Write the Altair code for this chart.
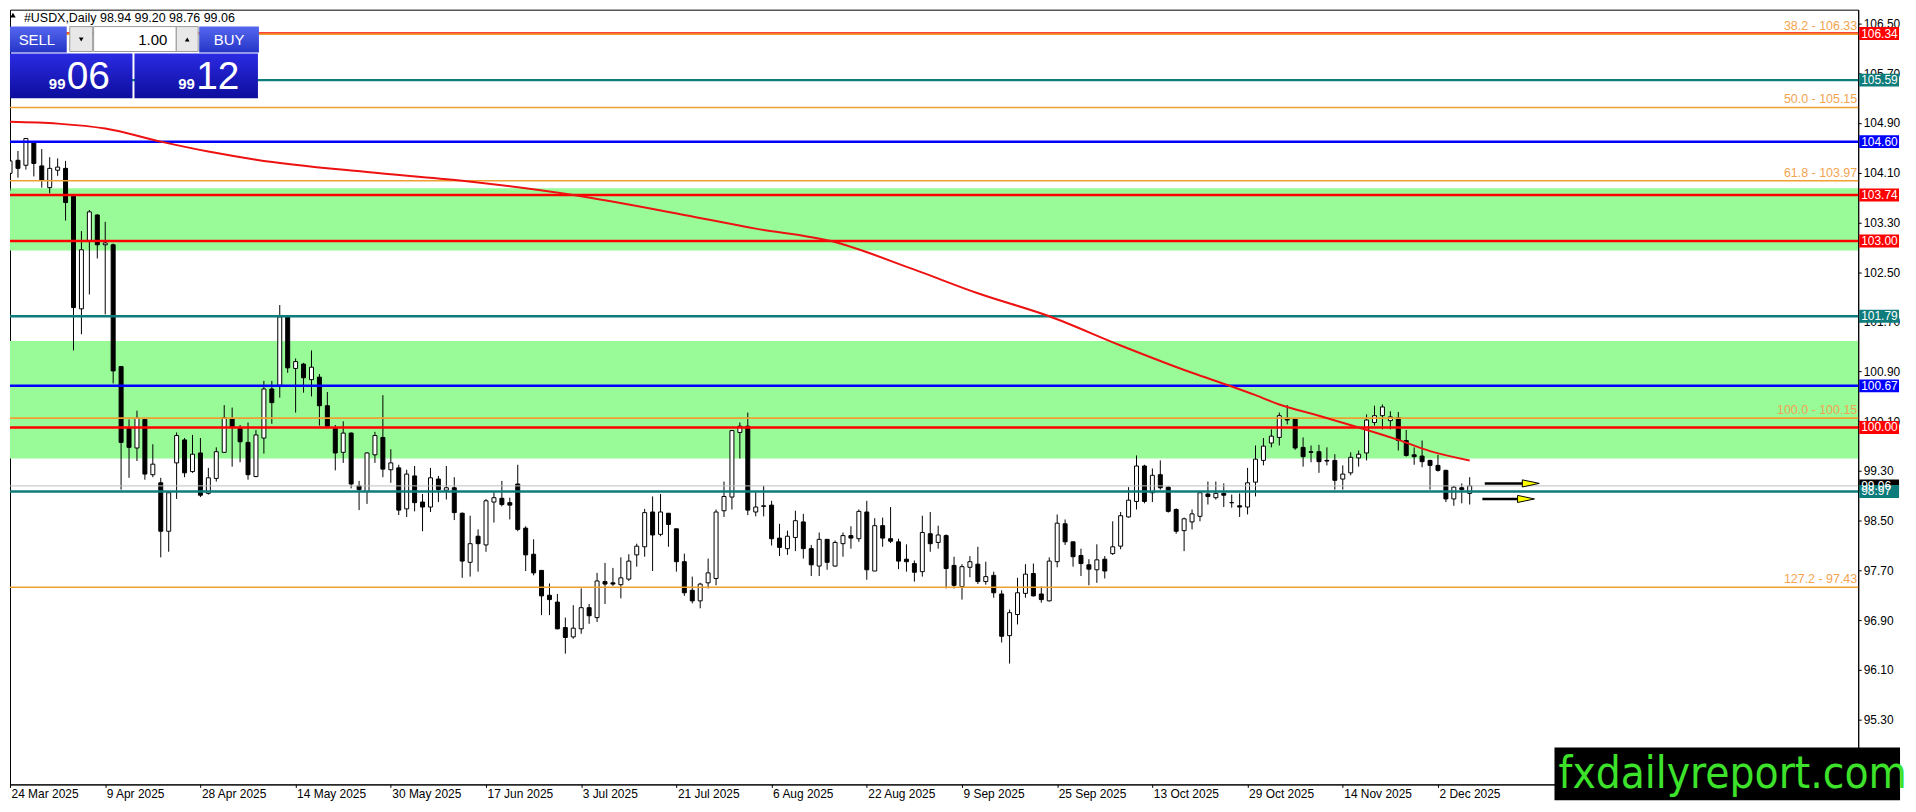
import altair as alt
import pandas as pd

# ---------------- data (#USDX, Daily) ----------------
opens = [
    104.09, 104.30, 104.22, 104.58, 104.21, 103.86, 104.14, 104.17, 103.72, 101.91,
    103.01, 103.42, 102.94, 102.94, 100.98, 99.99, 99.67, 100.13, 99.24, 99.11,
    98.33, 99.43, 99.80, 99.29, 99.59, 98.94, 99.18, 99.60, 100.14, 99.99,
    99.76, 99.21, 99.83, 100.62, 100.68, 101.78, 100.95, 101.02, 100.77, 100.81,
    100.35, 99.99, 99.60, 99.91, 99.06, 98.97, 99.56, 99.84, 99.32, 99.35,
    98.69, 99.22, 98.80, 98.72, 99.17, 98.99, 99.03, 98.62, 97.83, 98.25,
    98.11, 98.80, 98.86, 98.79, 99.09, 98.38, 97.96, 97.70, 97.30, 97.19,
    96.78, 96.63, 96.76, 97.10, 96.94, 97.52, 97.50, 97.47, 97.56, 97.95,
    98.08, 98.64, 98.28, 98.62, 98.37, 97.84, 97.38, 97.21, 97.50, 97.57,
    98.66, 98.88, 99.92, 100.02, 98.64, 98.73, 98.75, 98.22, 98.05, 98.23,
    98.48, 98.05, 97.77, 98.20, 97.77, 98.13, 98.26, 98.21, 98.64, 97.69,
    98.42, 98.21, 98.16, 97.88, 97.81, 97.68, 98.29, 98.15, 98.26, 97.78,
    97.44, 97.75, 97.80, 97.52, 97.62, 97.32, 96.65, 96.99, 97.33, 97.65,
    97.32, 97.21, 97.84, 98.45, 98.16, 97.94, 97.79, 97.71, 97.88, 97.97,
    98.09, 98.56, 98.81, 99.38, 98.95, 99.24, 99.04, 98.68, 98.34, 98.48,
    98.57, 98.93, 98.87, 98.94, 98.79, 98.74, 98.72, 99.12, 99.47, 99.75,
    99.84, 100.15, 100.14, 99.68, 99.61, 99.61, 99.47, 99.47, 99.17, 99.27,
    99.51, 99.59, 100.08, 100.19, 100.11, 100.16, 99.79, 99.56, 99.54, 99.47,
    99.39, 99.31, 98.85, 99.03, 98.94,
]
highs = [
    104.45, 104.45, 104.66, 104.59, 104.48, 104.35, 104.33, 104.29, 103.73, 103.16,
    103.50, 103.43, 103.31, 102.96, 100.99, 100.13, 100.27, 100.13, 99.73, 99.19,
    98.96, 99.92, 99.83, 99.88, 99.83, 99.35, 99.68, 100.36, 100.32, 100.04,
    100.08, 99.96, 100.75, 100.75, 101.97, 101.79, 101.11, 101.04, 101.24, 100.86,
    100.57, 100.04, 100.10, 99.92, 99.14, 99.60, 99.93, 100.52, 99.65, 99.40,
    99.32, 99.38, 98.93, 99.35, 99.22, 99.38, 99.20, 98.63, 98.58, 98.36,
    98.85, 98.97, 99.14, 98.87, 99.40, 98.41, 98.20, 97.70, 97.49, 97.32,
    96.94, 97.14, 97.41, 97.16, 97.66, 97.82, 97.74, 97.91, 97.96, 98.13,
    98.69, 98.89, 98.93, 98.62, 98.37, 97.97, 97.60, 97.50, 97.89, 98.68,
    99.13, 99.96, 100.08, 100.24, 98.96, 99.06, 98.82, 98.45, 98.34, 98.66,
    98.61, 98.11, 98.31, 98.20, 98.18, 98.31, 98.41, 98.68, 98.82, 98.54,
    98.55, 98.72, 98.21, 98.12, 97.86, 98.58, 98.64, 98.42, 98.28, 97.92,
    97.80, 97.93, 98.08, 97.84, 97.68, 97.38, 97.07, 97.58, 97.80, 97.81,
    97.44, 97.91, 98.60, 98.52, 98.16, 98.05, 97.88, 98.12, 97.93, 98.49,
    98.64, 99.04, 99.55, 99.40, 99.34, 99.47, 99.05, 98.70, 98.55, 98.68,
    98.96, 99.13, 99.13, 99.10, 98.92, 98.94, 99.35, 99.71, 99.83, 99.97,
    100.24, 100.36, 100.14, 99.84, 99.71, 99.72, 99.68, 99.57, 99.39, 99.60,
    99.63, 100.21, 100.35, 100.37, 100.26, 100.25, 99.96, 99.68, 99.79, 99.48,
    99.56, 99.32, 99.06, 99.10, 99.20,
]
lows = [
    103.81, 104.02, 104.15, 104.04, 103.86, 103.77, 104.05, 103.33, 101.24, 101.50,
    102.14, 102.72, 101.82, 100.71, 99.00, 99.19, 99.46, 99.16, 99.20, 97.91,
    98.00, 98.85, 99.20, 99.27, 98.88, 98.92, 99.13, 99.59, 99.37, 99.44,
    99.16, 99.20, 99.58, 100.06, 100.48, 100.88, 100.24, 100.56, 100.50, 100.03,
    100.01, 99.31, 99.43, 99.02, 98.67, 98.77, 99.43, 99.20, 99.11, 98.59,
    98.56, 98.65, 98.33, 98.64, 98.80, 98.84, 98.51, 97.58, 97.60, 97.68,
    98.00, 98.47, 98.73, 98.52, 98.33, 97.69, 97.62, 96.98, 96.98, 96.75,
    96.36, 96.60, 96.68, 96.84, 96.87, 97.16, 97.45, 97.25, 97.53, 97.76,
    97.92, 97.69, 98.25, 98.08, 97.68, 97.29, 97.17, 97.09, 97.41, 97.46,
    98.56, 98.68, 99.50, 98.59, 98.57, 98.57, 98.10, 97.93, 97.95, 98.01,
    97.89, 97.61, 97.61, 97.71, 97.76, 97.92, 98.05, 98.16, 97.55, 97.69,
    98.08, 98.14, 97.72, 97.68, 97.52, 97.60, 98.00, 98.05, 97.41, 97.41,
    97.23, 97.59, 97.48, 97.47, 97.26, 96.54, 96.20, 96.83, 97.26, 97.28,
    97.18, 97.20, 97.75, 98.11, 97.76, 97.61, 97.46, 97.50, 97.57, 97.95,
    98.04, 98.55, 98.68, 98.78, 98.80, 99.00, 98.63, 98.29, 98.01, 98.36,
    98.49, 98.76, 98.84, 98.72, 98.71, 98.56, 98.60, 98.89, 99.39, 99.68,
    99.71, 100.05, 99.64, 99.37, 99.44, 99.27, 99.39, 99.00, 99.00, 99.23,
    99.37, 99.47, 100.03, 99.97, 99.97, 99.63, 99.53, 99.40, 99.36, 99.00,
    99.29, 98.80, 98.74, 98.78, 98.76,
]
closes = [
    104.29, 104.17, 104.65, 104.25, 103.98, 104.17, 104.19, 103.62, 101.93, 102.86,
    103.47, 102.94, 102.97, 100.91, 99.76, 99.68, 100.15, 99.25, 99.41, 98.33,
    98.95, 99.87, 99.27, 99.57, 98.91, 99.19, 99.61, 100.16, 100.01, 99.77,
    99.24, 99.88, 100.62, 100.40, 101.78, 100.96, 101.06, 100.80, 100.97, 100.35,
    100.02, 99.59, 99.91, 99.09, 99.00, 99.59, 99.87, 99.33, 99.43, 98.67,
    99.25, 98.79, 98.72, 99.19, 99.00, 99.03, 98.63, 97.85, 98.13, 98.13,
    98.82, 98.87, 98.76, 98.75, 98.36, 97.95, 97.66, 97.29, 97.23, 96.76,
    96.62, 96.77, 97.10, 96.97, 97.53, 97.48, 97.48, 97.58, 97.85, 98.09,
    98.63, 98.27, 98.64, 98.44, 97.84, 97.34, 97.21, 97.48, 97.66, 98.64,
    98.89, 99.95, 100.02, 98.67, 98.72, 98.74, 98.21, 98.07, 98.25, 98.50,
    98.05, 97.79, 98.20, 97.83, 98.15, 98.26, 98.22, 98.65, 97.71, 98.42,
    98.22, 98.17, 97.85, 97.84, 97.67, 98.31, 98.13, 98.27, 97.73, 97.46,
    97.76, 97.84, 97.52, 97.60, 97.34, 96.64, 97.02, 97.34, 97.64, 97.29,
    97.23, 97.85, 98.46, 98.16, 97.92, 97.81, 97.72, 97.87, 97.69, 98.08,
    98.58, 98.83, 99.38, 98.81, 99.23, 99.03, 98.65, 98.33, 98.53, 98.61,
    98.95, 98.89, 98.94, 98.91, 98.79, 98.72, 99.11, 99.49, 99.70, 99.86,
    100.19, 100.12, 99.67, 99.53, 99.60, 99.45, 99.46, 99.15, 99.25, 99.52,
    99.57, 100.12, 100.19, 100.33, 100.17, 99.79, 99.55, 99.53, 99.45, 99.39,
    99.31, 98.85, 99.04, 99.00, 99.06,
]

date_labels = ["24 Mar 2025", "9 Apr 2025", "28 Apr 2025", "14 May 2025", "30 May 2025",
               "17 Jun 2025", "3 Jul 2025", "21 Jul 2025", "6 Aug 2025", "22 Aug 2025",
               "9 Sep 2025", "25 Sep 2025", "13 Oct 2025", "29 Oct 2025", "14 Nov 2025",
               "2 Dec 2025"]
price_ticks = [106.50, 105.70, 104.90, 104.10, 103.30, 102.50, 101.70, 100.90,
               100.10, 99.30, 98.50, 97.70, 96.90, 96.10, 95.30, 94.50]

# moving average (red curve) read at some bars
ma_bars = [1, 7, 13, 20, 26, 32, 46, 58, 72, 86, 95, 104.5, 115, 123, 132, 141,
           150, 155, 158, 161, 166, 171, 176, 180, 185]
ma_values = [104.92, 104.89, 104.81, 104.60, 104.44, 104.31, 104.11, 103.97, 103.74,
             103.42, 103.20, 103.00, 102.54, 102.16, 101.79, 101.32, 100.88, 100.66,
             100.52, 100.37, 100.19, 100.00, 99.80, 99.62, 99.47]

level_prices = [106.34, 105.59, 104.60, 103.74, 103.00, 101.79, 100.67, 100.00, 98.97]
level_colors = ["#FF0000", "#0E7C7B", "#0000FF", "#FF0000", "#FF0000", "#0E7C7B",
                "#0000FF", "#FF0000", "#0E7C7B"]
fib_ratios = ["38.2", "50.0", "61.8", "100.0", "127.2"]
fib_prices = [106.33, 105.15, 103.97, 100.15, 97.43]
zone_low = [102.85, 99.50]
zone_high = [103.85, 101.39]
bid_price = 99.06
ask_price = 99.12
title_text = "#USDX,Daily 98.94 99.20 98.76 99.06"
watermark = "fxdailyreport.com"

# ---------------- chart ----------------
W, H = 1856, 778
FONT = "Liberation Sans"
NARROW = "'Liberation Sans Narrow', 'DejaVu Sans Condensed', 'Arial Narrow', sans-serif"
FIB = "#F0A030"

n = list(range(1, len(opens) + 1))
candles = pd.DataFrame({"n": n, "o": opens, "h": highs, "l": lows, "c": closes})
candles["fill"] = ["white" if c >= o else "black" for o, c in zip(opens, closes)]

xs = alt.Scale(domain=[0.995, 233.975], nice=False, zero=False, padding=0)
ys = alt.Scale(domain=[94.256, 106.724], nice=False, zero=False, padding=0)

label_expr = "[" + ",".join("'%s'" % d for d in date_labels) + "][round((datum.value - 1) / 12)]"
x_axis = alt.Axis(values=[1 + 12 * i for i in range(len(date_labels))], labelExpr=label_expr,
                  title=None, grid=False, labelAlign="left", labelBaseline="top",
                  labelFlush=False, labelOverlap=False, labelPadding=1, tickSize=3,
                  labelFont=FONT, labelFontSize=12, labelColor="black", tickColor="black",
                  domainColor="black", labelOffset=1, zindex=0)
y_axis = alt.Axis(values=price_ticks, format=".2f", orient="right", title=None, grid=False,
                  labelFlush=False, labelOverlap=False, tickSize=3, labelPadding=2,
                  labelFont=FONT, labelFontSize=12, labelColor="black", tickColor="black",
                  domainColor="black", zindex=0)


def X(f):
    return alt.X(f, type="quantitative", scale=xs, axis=x_axis)


def Y(f):
    return alt.Y(f, type="quantitative", scale=ys, axis=y_axis)


one = pd.DataFrame({"a": [0]})

zones = alt.Chart(pd.DataFrame({"lo": zone_low, "hi": zone_high})).mark_rect(
    color="#98FB98", clip=True).encode(y=Y("lo"), y2="hi:Q")

wicks = alt.Chart(candles).mark_rule(color="black", strokeWidth=1, clip=True).encode(
    x=X("n"), y=Y("l"), y2="h:Q")
bodies = alt.Chart(candles).mark_bar(size=4, stroke="black", strokeWidth=1, clip=True).encode(
    x=X("n"), y=Y("o"), y2="c:Q", fill=alt.Fill("fill:N", scale=None))

bid_line = alt.Chart(pd.DataFrame({"p": [bid_price]})).mark_rule(
    color="#C0C0C0", strokeWidth=1).encode(y=Y("p"))

levels = pd.DataFrame({"p": level_prices, "col": level_colors})
level_lines = alt.Chart(levels).mark_rule(strokeWidth=2.5).encode(
    y=Y("p"), color=alt.Color("col:N", scale=None))

fibs = pd.DataFrame({"p": fib_prices,
                     "txt": ["%s - %.2f" % (r, p) for r, p in zip(fib_ratios, fib_prices)]})
fib_lines = alt.Chart(fibs).mark_rule(color=FIB, strokeWidth=1.6).encode(y=Y("p"))
fib_text = alt.Chart(fibs).mark_text(align="right", baseline="bottom", dy=-1, fontSize=12.5,
                                     font=FONT, color="#F2A450").encode(
    x=alt.value(W - 1), y=Y("p"), text="txt:N")

ma = alt.Chart(pd.DataFrame({"n": ma_bars, "v": ma_values})).mark_line(
    color="#EE1111", strokeWidth=2, clip=True, interpolate="monotone").encode(x=X("n"), y=Y("v"))

last = len(opens)
arrows = pd.DataFrame({"x1": [last + 1.9, last + 1.6], "x2": [last + 6.7, last + 6.0],
                       "xh": [last + 7.7, last + 7.1], "p": [99.10, 98.85]})
arrow_shafts = alt.Chart(arrows).mark_rule(color="black", strokeWidth=2.5).encode(
    x=X("x1"), x2="x2:Q", y=Y("p"))
arrow_heads = alt.Chart(arrows).mark_point(
    shape="M-1,-0.42L1,0L-1,0.42Z", size=289, filled=True, fill="#FFFF00", stroke="black",
    strokeWidth=1, opacity=1).encode(x=X("xh"), y=Y("p"))

box_rows = pd.DataFrame({
    "p": level_prices[:8] + [bid_price, level_prices[8]],
    "col": level_colors[:8] + ["#000000", level_colors[8]],
})
box_rows["txt"] = ["%.2f" % v for v in box_rows["p"]]
label_boxes = alt.Chart(box_rows).mark_point(
    shape="M-1,-0.325L1,-0.325L1,0.325L-1,0.325Z", size=1600, filled=True, opacity=1,
    strokeWidth=0).encode(x=alt.value(W + 21), y=Y("p"), fill=alt.Fill("col:N", scale=None))
label_texts = alt.Chart(box_rows).mark_text(align="left", baseline="middle", fontSize=12,
                                            font=FONT, color="white").encode(
    x=alt.value(W + 3), y=Y("p"), text="txt:N")


def box(x1, y1, x2, y2, **kw):
    return alt.Chart(one).mark_rect(**kw).encode(
        x=alt.value(x1), x2=alt.value(x2), y=alt.value(y1), y2=alt.value(y2))


def label(x, y, text, **kw):
    kw.setdefault("font", FONT)
    return alt.Chart(one).mark_text(**kw).encode(
        x=alt.value(x), y=alt.value(y), text=alt.value(text))


def sym(x, y, shape, size):
    return alt.Chart(one).mark_point(shape=shape, size=size, filled=True, color="black",
                                     opacity=1).encode(x=alt.value(x), y=alt.value(y))


btn_grad = alt.Gradient(gradient="linear", x1=0, x2=0, y1=0, y2=1,
                        stops=[alt.GradientStop(color="#5566EE", offset=0),
                               alt.GradientStop(color="#2536C8", offset=1)])
big_grad = alt.Gradient(gradient="linear", x1=0, x2=0, y1=0, y2=1,
                        stops=[alt.GradientStop(color="#2B2BE4", offset=0),
                               alt.GradientStop(color="#0D0D9C", offset=1)])

bid_txt = "%.2f" % bid_price
ask_txt = "%.2f" % ask_price
panel = [
    sym(3, 5.5, "triangle-up", 30),
    label(14, 12, title_text, align="left", baseline="alphabetic", fontSize=12.5, color="black"),
    box(0, 17, 57, 43, fill=btn_grad),
    label(27, 30.5, "SELL", align="center", baseline="middle", fontSize=15, color="white"),
    box(60, 17, 83, 42, fill="#E8E8E8", stroke="#9A9A9A", strokeWidth=1),
    sym(71.5, 30, "triangle-down", 22),
    box(84, 17, 167, 42, fill="white", stroke="#9A9A9A", strokeWidth=1),
    label(158, 30.5, "1.00", align="right", baseline="middle", fontSize=15, color="black"),
    box(167, 17, 189, 42, fill="#E8E8E8", stroke="#9A9A9A", strokeWidth=1),
    sym(178, 30, "triangle-up", 22),
    box(190, 17, 250, 43, fill=btn_grad),
    label(220, 30.5, "BUY", align="center", baseline="middle", fontSize=15, color="white"),
    box(0, 44, 123, 89, fill=big_grad),
    box(125, 44, 249, 89, fill=big_grad),
    label(39, 80, bid_txt[:2], align="left", baseline="alphabetic", fontSize=15,
          fontWeight="bold", color="white"),
    label(57, 80, bid_txt[3:], align="left", baseline="alphabetic", fontSize=39, color="white"),
    label(169, 80, ask_txt[:2], align="left", baseline="alphabetic", fontSize=15,
          fontWeight="bold", color="white"),
    label(187, 80, ask_txt[3:], align="left", baseline="alphabetic", fontSize=39, color="white"),
]

wm = [
    box(1551, 741, 1898, 794, fill="black"),
    label(1730, 782, watermark, align="center", baseline="alphabetic", fontSize=44,
          font=NARROW, color="#3DE22A"),
]

chart = alt.layer(
    zones, wicks, bodies, bid_line, level_lines, fib_lines, fib_text, ma,
    arrow_shafts, arrow_heads, label_boxes, label_texts, *panel, *wm
).properties(width=W, height=H, padding=0, background="white").configure_view(
    stroke="black", strokeWidth=1)

chart.save("out.html", embed_options={"renderer": "svg", "actions": False})
